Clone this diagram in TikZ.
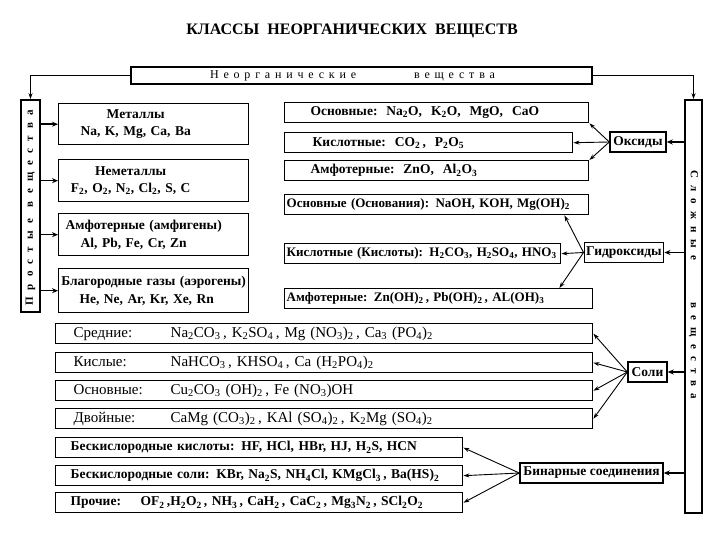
\documentclass[tikz,border=0pt]{standalone}
\usepackage{fontspec}
\setmainfont{Liberation Serif}
\newfontfamily\spacedfont[LetterSpace=40]{Liberation Serif}
\newfontfamily\vspacedfont[LetterSpace=65]{Liberation Serif}
\usetikzlibrary{arrows.meta}
\newcommand{\ix}[1]{\textsubscript{#1}}
\begin{document}
\begin{tikzpicture}[x=1pt,y=-1pt,
  rowbox/.style={draw, line width=1.4pt, anchor=north west, inner xsep=2pt, inner ysep=0pt,
     minimum height=20pt, align=left, font=\bfseries\fontsize{13.5}{15}\selectfont},
  hydbox/.style={rowbox, font=\bfseries\fontsize{13}{15}\selectfont},
  saltbox/.style={rowbox, font=\fontsize{15}{16}\selectfont},
  simplebox/.style={rowbox, font=\bfseries\fontsize{13.5}{17.5}\selectfont},
  hub/.style={draw, line width=1.4pt, inner xsep=2pt, inner ysep=0pt, minimum height=20pt,
     font=\bfseries\fontsize{13.5}{15}\selectfont},
  bar/.style={draw, line width=1.6pt, inner sep=0pt},
  vtext/.style={inner sep=0pt, font=\vspacedfont\bfseries\fontsize{11}{12}\selectfont},
  arr/.style={line width=0.9pt, -{Stealth[length=6pt,width=4pt]}},
  barr/.style={line width=1.5pt, -{Stealth[length=6pt,width=5pt]}}
]
\useasboundingbox (0,0) rectangle (720,540);

% title
\node[font=\bfseries\fontsize{16}{18}\selectfont] (title) at (352,31)
  {КЛАССЫ\ \ НЕОРГАНИЧЕСКИХ\ \ ВЕЩЕСТВ};

% top box
\node[draw, line width=1.6pt, minimum width=461pt, minimum height=17pt, inner sep=0pt,
  font=\spacedfont\fontsize{12}{13}\selectfont] (top) at (361.5,75.5)
  {Неорганические\hspace{58pt}вещества\hspace*{18pt}};

% side bars
\node[bar, minimum width=19pt, minimum height=212pt] (prost) at (30.5,206) {};
\node[vtext, rotate=90] (prosttxt) at (30.5,208) {Простые\hspace{12pt}вещества};
\node[bar, minimum width=17pt, minimum height=413pt] (slozh) at (693.5,306.5) {};
\node[vtext, rotate=-90] (slozhtxt) at (693.5,285) {Сложные\hspace{42pt}вещества};

\draw[arr] (top.west) -| (prost.north);
\draw[arr] (top.east) -| (slozh.north);

% simple substances
\node[simplebox, text width=186pt, minimum height=41pt] (m1) at (58,103)
  {\makebox[150pt][c]{Металлы}\\\makebox[150pt][c]{Na, K, Mg, Ca, Ba}};
\node[simplebox, text width=186pt, minimum height=42pt] (m2) at (58,159)
  {\makebox[140pt][c]{Неметаллы}\\\makebox[140pt][c]{F\ix2, O\ix2, N\ix2, Cl\ix2, S, C}};
\node[simplebox, text width=186pt, minimum height=42pt] (m3) at (58,213)
  {\makebox[166pt][c]{Амфотерные (амфигены)}\\\makebox[146pt][c]{Al, Pb, Fe, Cr, Zn}};
\node[simplebox, text width=186pt, minimum height=44pt] (m4) at (58,268)
  {\makebox[186pt][c]{Благородные газы (аэрогены)}\\\makebox[172pt][c]{He, Ne, Ar, Kr, Xe, Rn}};
\foreach \m in {m1,m2,m3,m4} \draw[barr] (prost.east |- \m.west) -- (\m.west);

% oxides
\node[rowbox, text width=300pt] (o1) at (284,102)
  {\hspace*{24pt}Основные:\ \ Na\ix2O,\ \ K\ix2O,\ \ MgO,\ \ CaO};
\node[rowbox, text width=284pt] (o2) at (284,132)
  {\hspace*{26pt}Кислотные:\ \ CO\ix2\,,\ \ P\ix2O\ix5};
\node[rowbox, text width=300pt] (o3) at (284,160)
  {\hspace*{24pt}Амфотерные:\ \ ZnO,\ \ Al\ix2O\ix3};
\node[hub, minimum width=56pt] (oks) at (638,142) {Оксиды};
\draw[barr] (slozh.west |- oks) -- (oks.east);
\draw[arr] (oks.west) -- (o1.south east);
\draw[arr] (oks.west) -- (o2.east);
\draw[arr] (oks.west) -- (o3.north east);

% hydroxides
\node[hydbox, text width=300pt] (h1) at (284,194)
  {Основные (Основания): NaOH, KOH, Mg(OH)\ix2};
\node[hydbox, text width=272pt] (h2) at (284,243)
  {Кислотные (Кислоты): H\ix2CO\ix3, H\ix2SO\ix4, HNO\ix3};
\node[hydbox, text width=304pt] (h3) at (284,288)
  {Амфотерные: Zn(OH)\ix2\,, Pb(OH)\ix2\,, AL(OH)\ix3};
\node[hub, minimum width=78pt] (gid) at (624,252.5) {Гидроксиды};
\draw[barr] (slozh.west |- gid) -- (gid.east);
\draw[arr] (gid.west) -- ([xshift=-25pt]h1.south east);
\draw[arr] (gid.west) -- (h2.east);
\draw[arr] (gid.west) -- ([xshift=-34pt]h3.north east);

% salts
\node[saltbox, text width=533pt] (s1) at (55,323)
  {\hspace*{16pt}\makebox[97pt][l]{Средние:}Na\ix2CO\ix3\,, K\ix2SO\ix4\,, Mg (NO\ix3)\ix2\,, Ca\ix3 (PO\ix4)\ix2};
\node[saltbox, text width=533pt] (s2) at (55,352)
  {\hspace*{16pt}\makebox[97pt][l]{Кислые:}NaHCO\ix3\,, KHSO\ix4\,, Ca (H\ix2PO\ix4)\ix2};
\node[saltbox, text width=533pt] (s3) at (55,380)
  {\hspace*{16pt}\makebox[97pt][l]{Основные:}Cu\ix2CO\ix3 (OH)\ix2\,, Fe (NO\ix3)OH};
\node[saltbox, text width=533pt] (s4) at (55,408)
  {\hspace*{16pt}\makebox[97pt][l]{Двойные:}CaMg (CO\ix3)\ix2\,, KAl (SO\ix4)\ix2\,, K\ix2Mg (SO\ix4)\ix2};
\node[hub, minimum width=39pt] (soli) at (647.5,372) {Соли};
\draw[barr] (slozh.west |- soli) -- (soli.east);
\foreach \s in {s1,s2,s3,s4} \draw[arr] (soli.west) -- (\s.east);

% binary
\node[rowbox, text width=403pt] (b1) at (55,437)
  {\hspace*{13pt}Бескислородные кислоты: HF, HCl, HBr, HJ, H\ix2S, HCN};
\node[rowbox, text width=403pt] (b2) at (55,465)
  {\hspace*{13pt}Бескислородные соли: KBr, Na\ix2S, NH\ix4Cl, KMgCl\ix3\,, Ba(HS)\ix2};
\node[rowbox, text width=403pt] (b3) at (55,492)
  {\hspace*{13pt}\makebox[70pt][l]{Прочие:}OF\ix2\,,H\ix2O\ix2\,, NH\ix3\,, CaH\ix2\,, CaC\ix2\,, Mg\ix3N\ix2\,, SCl\ix2O\ix2};
\node[hub, minimum width=143pt] (bin) at (591.5,473) {Бинарные соединения};
\draw[barr] (slozh.west |- bin) -- (bin.east);
\foreach \b in {b1,b2,b3} \draw[arr] (bin.west) -- (\b.east);
\end{tikzpicture}
\end{document}
